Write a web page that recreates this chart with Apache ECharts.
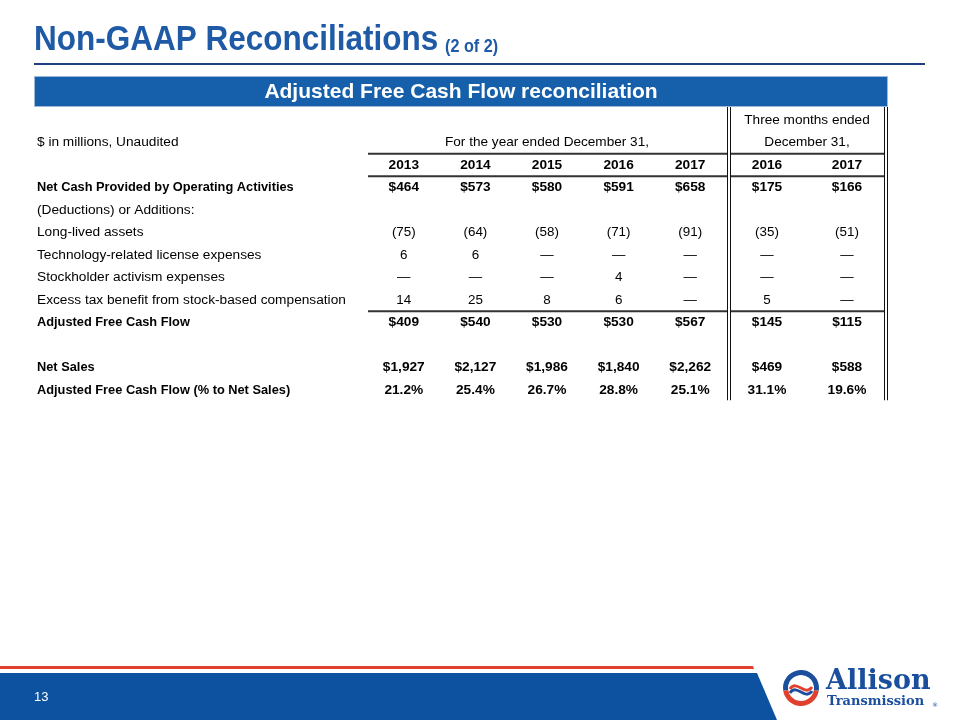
<!DOCTYPE html>
<html><head><meta charset="utf-8">
<script src="https://cdn.jsdelivr.net/npm/echarts@6/dist/echarts.min.js"></script>
<style>html,body{margin:0;padding:0;background:#fff}#c{width:960px;height:720px}</style>
</head><body><div id="c"></div>
<script>
// ---------- data ----------
const rowLabels = ['', '$ in millions, Unaudited', '', 'Net Cash Provided by Operating Activities',
  '(Deductions) or Additions:', 'Long-lived assets', 'Technology-related license expenses',
  'Stockholder activism expenses', 'Excess tax benefit from stock-based compensation',
  'Adjusted Free Cash Flow', '', 'Net Sales', 'Adjusted Free Cash Flow (% to Net Sales)'];
const annualYears = ['2013', '2014', '2015', '2016', '2017'];
const quarterYears = ['2016', '2017'];
const annualHeader = 'For the year ended December 31,';
const quarterHeader = ['Three months ended', 'December 31,'];
// 5 annual values followed by 2 three-month values
const netCash = [464, 573, 580, 591, 658, 175, 166];
const longLived = [-75, -64, -58, -71, -91, -35, -51];
const techLicense = [6, 6, null, null, null, null, null];
const activism = [null, null, null, 4, null, null, null];
const excessTax = [14, 25, 8, 6, null, 5, null];
const adjFCF = [409, 540, 530, 530, 567, 145, 115];
const netSales = [1927, 2127, 1986, 1840, 2262, 469, 588];
const fcfPct = [21.2, 25.4, 26.7, 28.8, 25.1, 31.1, 19.6];

// ---------- formatting ----------
const FONT = "'Liberation Sans', Arial, Helvetica, sans-serif";
const money = v => v == null ? '\u2014' : '$' + v.toLocaleString('en-US');
const adj = v => v == null ? '\u2014' : (v < 0 ? '(' + (-v) + ')' : String(v));
const pct = v => v.toFixed(1) + '%';
const txt = v => v;
const boldLabelRows = [3, 9, 11, 12];

const tableRows = [
  { row: 2, values: annualYears.concat(quarterYears), fmt: txt, bold: true },
  { row: 3, values: netCash, fmt: money, bold: true },
  { row: 5, values: longLived, fmt: adj, bold: false },
  { row: 6, values: techLicense, fmt: adj, bold: false },
  { row: 7, values: activism, fmt: adj, bold: false },
  { row: 8, values: excessTax, fmt: adj, bold: false },
  { row: 9, values: adjFCF, fmt: money, bold: true },
  { row: 11, values: netSales, fmt: money, bold: true },
  { row: 12, values: fcfPct, fmt: pct, bold: true }
];

const annualData = [], quarterData = [];
tableRows.forEach(r => {
  r.values.forEach((v, c) => {
    const item = {
      value: [c < 5 ? c : c - 5, r.row],
      label: { formatter: r.fmt(v), fontWeight: r.bold ? 'bold' : 'normal', fontSize: r.bold ? 13.7 : 13.4 }
    };
    (c < 5 ? annualData : quarterData).push(item);
  });
});

// ---------- layout ----------
const TOP = 108.75, ROWH = 22.5, NROWS = rowLabels.length;
const G0 = { left: 368, width: 358 }, G1 = { left: 727, width: 160 };
const rowY = i => TOP + ROWH * (i + 0.5);
const rowIds = rowLabels.map((_, i) => 'r' + i);

const chart = echarts.init(document.getElementById('c'), null, { renderer: 'canvas' });

const labelStyle = {
  show: true, position: 'inside', color: '#000', fontSize: 13.5, fontFamily: FONT,
  textBorderWidth: 0, textBorderColor: 'transparent', textShadowBlur: 0
};
const markStyle = { color: 'rgba(0,0,0,0)', opacity: 1 };
const hidAxis = { show: false };

const lineY = [(rowY(1) + rowY(2)) / 2, (rowY(2) + rowY(3)) / 2, (rowY(8) + rowY(9)) / 2];
const hLines = [];
lineY.forEach(y => {
  hLines.push({ type: 'line', shape: { x1: G0.left, y1: y, x2: G1.left, y2: y }, style: { stroke: '#333', lineWidth: 2 } });
  hLines.push({ type: 'line', shape: { x1: G1.left + 3, y1: y, x2: G1.left + G1.width - 2, y2: y }, style: { stroke: '#333', lineWidth: 2 } });
});
const vBottom = TOP + ROWH * NROWS - 1;
const vLines = [727.5, 730.5, 884.5, 887.5].map(x => ({
  type: 'line', shape: { x1: x, y1: 107, x2: x, y2: vBottom }, style: { stroke: '#111', lineWidth: 1 }
}));

const cx = 801, cy = 688;
const graphic = [
  // title
  { type: 'text', x: 34, y: 40, scaleX: 0.9, style: { text: 'Non-GAAP Reconciliations', x: 0, y: 0, fill: '#1F5AA6', font: 'bold 35px ' + FONT, verticalAlign: 'middle' } },
  { type: 'text', x: 445, y: 47, scaleX: 0.9, style: { text: '(2 of 2)', x: 0, y: 0, fill: '#1F5AA6', font: 'bold 18px ' + FONT, verticalAlign: 'middle' } },
  { type: 'line', shape: { x1: 34, y1: 64, x2: 925, y2: 64 }, style: { stroke: '#1c3f7d', lineWidth: 2 } },
  // banner
  { type: 'rect', shape: { x: 34.5, y: 76.5, width: 853, height: 30 }, style: { fill: '#1660AB', stroke: '#9db8da', lineWidth: 1 } },
  { type: 'text', x: 461, y: 92, style: { text: 'Adjusted Free Cash Flow reconciliation', fill: '#fff', font: 'bold 21px ' + FONT, align: 'center', verticalAlign: 'middle' } },
  // period headers
  { type: 'text', x: G0.left + G0.width / 2, y: rowY(1), style: { text: annualHeader, fill: '#000', font: '13.6px ' + FONT, align: 'center', verticalAlign: 'middle' } },
  { type: 'text', x: G1.left + G1.width / 2, y: rowY(0), style: { text: quarterHeader[0], fill: '#000', font: '13.6px ' + FONT, align: 'center', verticalAlign: 'middle' } },
  { type: 'text', x: G1.left + G1.width / 2, y: rowY(1), style: { text: quarterHeader[1], fill: '#000', font: '13.6px ' + FONT, align: 'center', verticalAlign: 'middle' } },
  ...hLines, ...vLines,
  // footer
  { type: 'polygon', shape: { points: [[0, 666], [753, 666], [754, 669], [0, 669]] }, style: { fill: '#E2402F' } },
  { type: 'polygon', shape: { points: [[0, 673], [757, 673], [777, 720], [0, 720]] }, style: { fill: '#0C52A1' } },
  { type: 'text', x: 34, y: 697, style: { text: '13', fill: '#fff', font: '13px ' + FONT, verticalAlign: 'middle' } },
  // logo
  { type: 'arc', shape: { cx: cx, cy: cy, r: 15.5, startAngle: Math.PI * 0.95, endAngle: Math.PI * 2.05, clockwise: true }, style: { stroke: '#1B4F9E', lineWidth: 5, fill: null } },
  { type: 'arc', shape: { cx: cx, cy: cy, r: 15.5, startAngle: Math.PI * 0.05, endAngle: Math.PI * 0.95, clockwise: true }, style: { stroke: '#E2402F', lineWidth: 5, fill: null } },
  { type: 'bezierCurve', shape: { x1: cx - 11, y1: cy + 1, x2: cx + 11, y2: cy - 1, cpx1: cx - 4, cpy1: cy - 9, cpx2: cx + 4, cpy2: cy + 9 }, style: { stroke: '#E2402F', lineWidth: 3, fill: null } },
  { type: 'bezierCurve', shape: { x1: cx - 11, y1: cy + 5, x2: cx + 11, y2: cy + 3, cpx1: cx - 4, cpy1: cy - 5, cpx2: cx + 4, cpy2: cy + 13 }, style: { stroke: '#1B4F9E', lineWidth: 3, fill: null } },
  { type: 'text', x: 826, y: 682, style: { text: 'Allison', fill: '#1B4F9E', font: "bold 27px 'DejaVu Serif', serif", verticalAlign: 'middle' } },
  { type: 'text', x: 827, y: 702, style: { text: 'Transmission', fill: '#1B4F9E', font: "bold 13px 'DejaVu Serif', serif", verticalAlign: 'middle' } },
  { type: 'text', x: 932, y: 705, style: { text: '\u00AE', fill: '#1B4F9E', font: "6px 'DejaVu Sans', sans-serif", verticalAlign: 'middle' } }
];

chart.setOption({
  animation: false,
  backgroundColor: '#fff',
  grid: [
    { left: G0.left, width: G0.width, top: TOP, height: ROWH * NROWS },
    { left: G1.left, width: G1.width, top: TOP, height: ROWH * NROWS }
  ],
  xAxis: [
    { type: 'category', gridIndex: 0, data: annualYears, ...hidAxis },
    { type: 'category', gridIndex: 1, data: quarterYears, ...hidAxis }
  ],
  yAxis: [
    {
      type: 'category', gridIndex: 0, data: rowIds, inverse: true,
      axisLine: { show: false }, axisTick: { show: false }, splitLine: { show: false },
      axisLabel: {
        show: true, interval: 0, align: 'left', margin: G0.left - 37,
        formatter: (v, i) => rowLabels[i] ? (boldLabelRows.includes(i) ? '{b|' + rowLabels[i] + '}' : '{n|' + rowLabels[i] + '}') : '',
        rich: {
          b: { fontFamily: FONT, fontSize: 12.8, fontWeight: 'bold', color: '#000' },
          n: { fontFamily: FONT, fontSize: 13.7, color: '#000' }
        }
      }
    },
    { type: 'category', gridIndex: 1, data: rowIds, inverse: true, show: false }
  ],
  series: [
    { type: 'scatter', xAxisIndex: 0, yAxisIndex: 0, data: annualData, symbolSize: 1, itemStyle: markStyle, label: labelStyle, silent: true },
    { type: 'scatter', xAxisIndex: 1, yAxisIndex: 1, data: quarterData, symbolSize: 1, itemStyle: markStyle, label: labelStyle, silent: true }
  ],
  graphic: graphic
});
</script></body></html>
